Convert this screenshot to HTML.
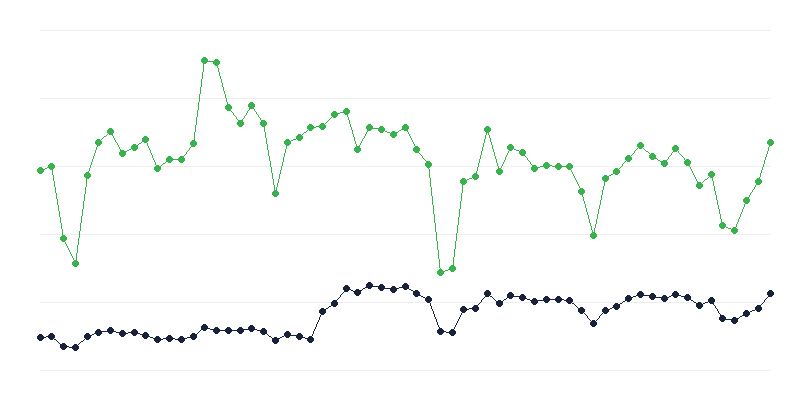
<!DOCTYPE html>
<html><head><meta charset="utf-8"><title>Chart</title>
<style>html,body{margin:0;padding:0;background:#fff;font-family:"Liberation Sans",sans-serif;}svg{display:block}</style>
</head><body>
<svg width="800" height="400" viewBox="0 0 800 400" shape-rendering="crispEdges">
<rect width="800" height="400" fill="#ffffff"/>
<rect x="40" y="30" width="731" height="1" fill="#eeeeee"/><rect x="40" y="98" width="731" height="1" fill="#eeeeee"/><rect x="40" y="166" width="731" height="1" fill="#eeeeee"/><rect x="40" y="234" width="731" height="1" fill="#eeeeee"/><rect x="40" y="302" width="731" height="1" fill="#eeeeee"/><rect x="40" y="370" width="731" height="1" fill="#eeeeee"/>
<path fill="#37b24d" d="M40 170h2v1h-2zM42 169h3v1h-3zM45 168h2v1h-2zM47 167h3v1h-3zM50 166h2v1h-2zM51 166h1v3h-1zM52 169h1v6h-1zM53 175h1v6h-1zM54 181h1v6h-1zM55 187h1v6h-1zM56 193h1v6h-1zM57 199h1v6h-1zM58 205h1v6h-1zM59 211h1v6h-1zM60 217h1v6h-1zM61 223h1v6h-1zM62 229h1v6h-1zM63 235h1v4h-1zM63 238h1v2h-1zM64 240h1v2h-1zM65 242h1v2h-1zM66 244h1v2h-1zM67 246h1v2h-1zM68 248h1v2h-1zM69 250h1v2h-1zM70 252h1v2h-1zM71 254h1v2h-1zM72 256h1v2h-1zM73 258h1v2h-1zM74 260h1v2h-1zM75 262h1v2h-1zM75 260h1v4h-1zM76 253h1v7h-1zM77 245h1v8h-1zM78 238h1v7h-1zM79 231h1v7h-1zM80 223h1v8h-1zM81 216h1v7h-1zM82 209h1v7h-1zM83 201h1v8h-1zM84 194h1v7h-1zM85 187h1v7h-1zM86 179h1v8h-1zM87 175h1v4h-1zM87 174h1v2h-1zM88 171h1v3h-1zM89 168h1v3h-1zM90 165h1v3h-1zM91 162h1v3h-1zM92 159h1v3h-1zM93 156h1v3h-1zM94 153h1v3h-1zM95 150h1v3h-1zM96 147h1v3h-1zM97 144h1v3h-1zM98 142h1v2h-1zM98 142h1v1h-1zM99 141h1v1h-1zM100 140h1v1h-1zM101 139h1v1h-1zM102 138h1v1h-1zM103 137h1v1h-1zM104 136h2v1h-2zM106 135h1v1h-1zM107 134h1v1h-1zM108 133h1v1h-1zM109 132h1v1h-1zM110 131h1v1h-1zM110 131h1v1h-1zM111 132h1v2h-1zM112 134h1v2h-1zM113 136h1v2h-1zM114 138h1v2h-1zM115 140h1v2h-1zM116 142h1v1h-1zM117 143h1v2h-1zM118 145h1v2h-1zM119 147h1v2h-1zM120 149h1v2h-1zM121 151h1v2h-1zM122 153h1v1h-1zM122 153h1v1h-1zM123 152h2v1h-2zM125 151h2v1h-2zM127 150h2v1h-2zM129 149h2v1h-2zM131 148h2v1h-2zM133 147h2v1h-2zM134 147h1v1h-1zM135 146h2v1h-2zM137 145h1v1h-1zM138 144h1v1h-1zM139 143h2v1h-2zM141 142h1v1h-1zM142 141h1v1h-1zM143 140h2v1h-2zM145 139h1v1h-1zM145 139h1v2h-1zM146 141h1v2h-1zM147 143h1v3h-1zM148 146h1v2h-1zM149 148h1v2h-1zM150 150h1v3h-1zM151 153h1v2h-1zM152 155h1v3h-1zM153 158h1v2h-1zM154 160h1v2h-1zM155 162h1v3h-1zM156 165h1v2h-1zM157 167h1v2h-1zM157 168h1v1h-1zM158 167h1v1h-1zM159 166h2v1h-2zM161 165h1v1h-1zM162 164h1v1h-1zM163 163h2v1h-2zM165 162h1v1h-1zM166 161h1v1h-1zM167 160h2v1h-2zM169 159h1v1h-1zM169 159h13v1h-13zM181 159h1v1h-1zM182 158h1v1h-1zM183 156h1v2h-1zM184 155h1v1h-1zM185 154h1v1h-1zM186 152h1v2h-1zM187 151h1v1h-1zM188 150h1v1h-1zM189 148h1v2h-1zM190 147h1v1h-1zM191 146h1v1h-1zM192 144h1v2h-1zM193 143h1v1h-1zM193 140h1v4h-1zM194 132h1v8h-1zM195 125h1v7h-1zM196 117h1v8h-1zM197 110h1v7h-1zM198 102h1v8h-1zM199 94h1v8h-1zM200 87h1v7h-1zM201 79h1v8h-1zM202 72h1v7h-1zM203 64h1v8h-1zM204 60h1v4h-1zM204 60h3v1h-3zM207 61h6v1h-6zM213 62h4v1h-4zM216 62h1v2h-1zM217 64h1v4h-1zM218 68h1v4h-1zM219 72h1v4h-1zM220 76h1v3h-1zM221 79h1v4h-1zM222 83h1v4h-1zM223 87h1v4h-1zM224 91h1v3h-1zM225 94h1v4h-1zM226 98h1v4h-1zM227 102h1v4h-1zM228 106h1v2h-1zM228 107h1v1h-1zM229 108h1v1h-1zM230 109h1v2h-1zM231 111h1v1h-1zM232 112h1v1h-1zM233 113h1v2h-1zM234 115h1v1h-1zM235 116h1v1h-1zM236 117h1v2h-1zM237 119h1v1h-1zM238 120h1v1h-1zM239 121h1v2h-1zM240 123h1v1h-1zM240 123h1v1h-1zM241 121h1v2h-1zM242 119h1v2h-1zM243 118h1v1h-1zM244 116h1v2h-1zM245 115h1v1h-1zM246 113h1v2h-1zM247 111h1v2h-1zM248 110h1v1h-1zM249 108h1v2h-1zM250 106h1v2h-1zM251 105h1v1h-1zM251 105h1v1h-1zM252 106h1v2h-1zM253 108h1v1h-1zM254 109h1v2h-1zM255 111h1v1h-1zM256 112h1v2h-1zM257 114h1v1h-1zM258 115h1v2h-1zM259 117h1v1h-1zM260 118h1v2h-1zM261 120h1v1h-1zM262 121h1v2h-1zM263 123h1v1h-1zM263 123h1v3h-1zM264 126h1v6h-1zM265 132h1v6h-1zM266 138h1v6h-1zM267 144h1v6h-1zM268 150h1v6h-1zM269 156h1v5h-1zM270 161h1v6h-1zM271 167h1v6h-1zM272 173h1v6h-1zM273 179h1v6h-1zM274 185h1v6h-1zM275 191h1v3h-1zM275 191h1v3h-1zM276 187h1v4h-1zM277 183h1v4h-1zM278 179h1v4h-1zM279 174h1v5h-1zM280 170h1v4h-1zM281 166h1v4h-1zM282 162h1v4h-1zM283 157h1v5h-1zM284 153h1v4h-1zM285 149h1v4h-1zM286 145h1v4h-1zM287 142h1v3h-1zM287 142h2v1h-2zM289 141h2v1h-2zM291 140h2v1h-2zM293 139h3v1h-3zM296 138h2v1h-2zM298 137h2v1h-2zM299 137h1v1h-1zM300 136h1v1h-1zM301 135h1v1h-1zM302 134h1v1h-1zM303 133h1v1h-1zM304 132h2v1h-2zM306 131h1v1h-1zM307 130h1v1h-1zM308 129h1v1h-1zM309 128h1v1h-1zM310 127h1v1h-1zM310 127h6v1h-6zM316 126h7v1h-7zM322 126h1v1h-1zM323 125h1v1h-1zM324 124h1v1h-1zM325 123h1v1h-1zM326 122h1v1h-1zM327 121h1v1h-1zM328 120h1v1h-1zM329 119h1v1h-1zM330 118h1v1h-1zM331 117h1v1h-1zM332 116h1v1h-1zM333 115h1v1h-1zM334 114h1v1h-1zM334 114h2v1h-2zM336 113h4v1h-4zM340 112h4v1h-4zM344 111h3v1h-3zM346 111h1v2h-1zM347 113h1v4h-1zM348 117h1v3h-1zM349 120h1v4h-1zM350 124h1v3h-1zM351 127h1v3h-1zM352 130h1v4h-1zM353 134h1v3h-1zM354 137h1v4h-1zM355 141h1v3h-1zM356 144h1v4h-1zM357 148h1v2h-1zM357 149h1v1h-1zM358 147h1v2h-1zM359 145h1v2h-1zM360 143h1v2h-1zM361 141h1v2h-1zM362 139h1v2h-1zM363 138h1v1h-1zM364 136h1v2h-1zM365 134h1v2h-1zM366 132h1v2h-1zM367 130h1v2h-1zM368 128h1v2h-1zM369 127h1v1h-1zM369 127h3v1h-3zM372 128h6v1h-6zM378 129h4v1h-4zM381 129h2v1h-2zM383 130h2v1h-2zM385 131h2v1h-2zM387 132h3v1h-3zM390 133h2v1h-2zM392 134h2v1h-2zM393 134h1v1h-1zM394 133h2v1h-2zM396 132h2v1h-2zM398 131h1v1h-1zM399 130h2v1h-2zM401 129h2v1h-2zM403 128h2v1h-2zM405 127h1v1h-1zM405 127h1v1h-1zM406 128h1v2h-1zM407 130h1v2h-1zM408 132h1v2h-1zM409 134h1v2h-1zM410 136h1v2h-1zM411 138h1v2h-1zM412 140h1v2h-1zM413 142h1v2h-1zM414 144h1v2h-1zM415 146h1v2h-1zM416 148h1v2h-1zM416 149h1v1h-1zM417 150h1v1h-1zM418 151h1v2h-1zM419 153h1v1h-1zM420 154h1v1h-1zM421 155h1v1h-1zM422 156h1v2h-1zM423 158h1v1h-1zM424 159h1v1h-1zM425 160h1v1h-1zM426 161h1v2h-1zM427 163h1v1h-1zM428 164h1v1h-1zM428 164h1v5h-1zM429 169h1v9h-1zM430 178h1v9h-1zM431 187h1v9h-1zM432 196h1v9h-1zM433 205h1v9h-1zM434 214h1v9h-1zM435 223h1v9h-1zM436 232h1v9h-1zM437 241h1v9h-1zM438 250h1v9h-1zM439 259h1v9h-1zM440 268h1v5h-1zM440 272h2v1h-2zM442 271h3v1h-3zM445 270h3v1h-3zM448 269h3v1h-3zM451 268h2v1h-2zM452 265h1v4h-1zM453 257h1v8h-1zM454 249h1v8h-1zM455 241h1v8h-1zM456 233h1v8h-1zM457 225h1v8h-1zM458 217h1v8h-1zM459 209h1v8h-1zM460 201h1v8h-1zM461 193h1v8h-1zM462 185h1v8h-1zM463 181h1v4h-1zM463 181h2v1h-2zM465 180h2v1h-2zM467 179h2v1h-2zM469 178h3v1h-3zM472 177h2v1h-2zM474 176h2v1h-2zM475 175h1v2h-1zM476 171h1v4h-1zM477 167h1v4h-1zM478 163h1v4h-1zM479 159h1v4h-1zM480 155h1v4h-1zM481 151h1v4h-1zM482 147h1v4h-1zM483 143h1v4h-1zM484 139h1v4h-1zM485 135h1v4h-1zM486 131h1v4h-1zM487 129h1v2h-1zM487 129h1v2h-1zM488 131h1v4h-1zM489 135h1v3h-1zM490 138h1v4h-1zM491 142h1v3h-1zM492 145h1v4h-1zM493 149h1v3h-1zM494 152h1v4h-1zM495 156h1v3h-1zM496 159h1v4h-1zM497 163h1v3h-1zM498 166h1v4h-1zM499 170h1v2h-1zM499 170h1v2h-1zM500 168h1v2h-1zM501 166h1v2h-1zM502 164h1v2h-1zM503 162h1v2h-1zM504 160h1v2h-1zM505 157h1v3h-1zM506 155h1v2h-1zM507 153h1v2h-1zM508 151h1v2h-1zM509 149h1v2h-1zM510 147h1v2h-1zM510 147h2v1h-2zM512 148h2v1h-2zM514 149h2v1h-2zM516 150h3v1h-3zM519 151h2v1h-2zM521 152h2v1h-2zM522 152h1v1h-1zM523 153h1v1h-1zM524 154h1v2h-1zM525 156h1v1h-1zM526 157h1v1h-1zM527 158h1v2h-1zM528 160h1v1h-1zM529 161h1v1h-1zM530 162h1v2h-1zM531 164h1v1h-1zM532 165h1v1h-1zM533 166h1v2h-1zM534 168h1v1h-1zM534 168h2v1h-2zM536 167h4v1h-4zM540 166h4v1h-4zM544 165h3v1h-3zM546 165h6v1h-6zM552 166h7v1h-7zM558 166h12v1h-12zM569 166h1v2h-1zM570 168h1v2h-1zM571 170h1v2h-1zM572 172h1v2h-1zM573 174h1v2h-1zM574 176h1v2h-1zM575 178h1v2h-1zM576 180h1v2h-1zM577 182h1v2h-1zM578 184h1v2h-1zM579 186h1v2h-1zM580 188h1v2h-1zM581 190h1v2h-1zM581 191h1v2h-1zM582 193h1v4h-1zM583 197h1v4h-1zM584 201h1v3h-1zM585 204h1v4h-1zM586 208h1v4h-1zM587 212h1v3h-1zM588 215h1v4h-1zM589 219h1v4h-1zM590 223h1v3h-1zM591 226h1v4h-1zM592 230h1v4h-1zM593 234h1v2h-1zM593 233h1v3h-1zM594 228h1v5h-1zM595 224h1v4h-1zM596 219h1v5h-1zM597 214h1v5h-1zM598 209h1v5h-1zM599 205h1v4h-1zM600 200h1v5h-1zM601 195h1v5h-1zM602 190h1v5h-1zM603 186h1v4h-1zM604 181h1v5h-1zM605 178h1v3h-1zM605 178h1v1h-1zM606 177h2v1h-2zM608 176h1v1h-1zM609 175h2v1h-2zM611 174h2v1h-2zM613 173h1v1h-1zM614 172h2v1h-2zM616 171h1v1h-1zM616 171h1v1h-1zM617 170h1v1h-1zM618 169h1v1h-1zM619 168h1v1h-1zM620 167h1v1h-1zM621 166h1v1h-1zM622 164h1v2h-1zM623 163h1v1h-1zM624 162h1v1h-1zM625 161h1v1h-1zM626 160h1v1h-1zM627 159h1v1h-1zM628 158h1v1h-1zM628 158h1v1h-1zM629 157h1v1h-1zM630 156h1v1h-1zM631 155h1v1h-1zM632 154h1v1h-1zM633 153h1v1h-1zM634 151h1v2h-1zM635 150h1v1h-1zM636 149h1v1h-1zM637 148h1v1h-1zM638 147h1v1h-1zM639 146h1v1h-1zM640 145h1v1h-1zM640 145h1v1h-1zM641 146h1v1h-1zM642 147h1v1h-1zM643 148h1v1h-1zM644 149h1v1h-1zM645 150h1v1h-1zM646 151h2v1h-2zM648 152h1v1h-1zM649 153h1v1h-1zM650 154h1v1h-1zM651 155h1v1h-1zM652 156h1v1h-1zM652 156h1v1h-1zM653 157h2v1h-2zM655 158h2v1h-2zM657 159h1v1h-1zM658 160h2v1h-2zM660 161h2v1h-2zM662 162h2v1h-2zM664 163h1v1h-1zM664 163h1v1h-1zM665 161h1v2h-1zM666 160h1v1h-1zM667 159h1v1h-1zM668 157h1v2h-1zM669 156h1v1h-1zM670 155h1v1h-1zM671 153h1v2h-1zM672 152h1v1h-1zM673 151h1v1h-1zM674 149h1v2h-1zM675 148h1v1h-1zM675 148h1v1h-1zM676 149h1v1h-1zM677 150h1v1h-1zM678 151h1v2h-1zM679 153h1v1h-1zM680 154h1v1h-1zM681 155h1v1h-1zM682 156h1v1h-1zM683 157h1v1h-1zM684 158h1v2h-1zM685 160h1v1h-1zM686 161h1v1h-1zM687 162h1v1h-1zM687 162h1v1h-1zM688 163h1v2h-1zM689 165h1v2h-1zM690 167h1v2h-1zM691 169h1v2h-1zM692 171h1v2h-1zM693 173h1v2h-1zM694 175h1v2h-1zM695 177h1v2h-1zM696 179h1v2h-1zM697 181h1v2h-1zM698 183h1v2h-1zM699 185h1v1h-1zM699 185h1v1h-1zM700 184h1v1h-1zM701 183h1v1h-1zM702 182h1v1h-1zM703 181h1v1h-1zM704 180h1v1h-1zM705 179h2v1h-2zM707 178h1v1h-1zM708 177h1v1h-1zM709 176h1v1h-1zM710 175h1v1h-1zM711 174h1v1h-1zM711 174h1v3h-1zM712 177h1v4h-1zM713 181h1v5h-1zM714 186h1v5h-1zM715 191h1v4h-1zM716 195h1v5h-1zM717 200h1v5h-1zM718 205h1v4h-1zM719 209h1v5h-1zM720 214h1v5h-1zM721 219h1v4h-1zM722 223h1v3h-1zM722 225h2v1h-2zM724 226h2v1h-2zM726 227h2v1h-2zM728 228h3v1h-3zM731 229h2v1h-2zM733 230h2v1h-2zM734 229h1v2h-1zM735 227h1v2h-1zM736 224h1v3h-1zM737 222h1v2h-1zM738 219h1v3h-1zM739 217h1v2h-1zM740 214h1v3h-1zM741 212h1v2h-1zM742 209h1v3h-1zM743 207h1v2h-1zM744 204h1v3h-1zM745 202h1v2h-1zM746 200h1v2h-1zM746 200h1v1h-1zM747 198h1v2h-1zM748 197h1v1h-1zM749 195h1v2h-1zM750 193h1v2h-1zM751 192h1v1h-1zM752 190h1v2h-1zM753 189h1v1h-1zM754 187h1v2h-1zM755 185h1v2h-1zM756 184h1v1h-1zM757 182h1v2h-1zM758 181h1v1h-1zM758 180h1v2h-1zM759 177h1v3h-1zM760 173h1v4h-1zM761 170h1v3h-1zM762 167h1v3h-1zM763 164h1v3h-1zM764 160h1v4h-1zM765 157h1v3h-1zM766 154h1v3h-1zM767 151h1v3h-1zM768 147h1v4h-1zM769 144h1v3h-1zM770 142h1v2h-1z"/>
<path fill="#37b24d" d="M39 167h3v1h1v1h1v3h-1v1h-1v1h-3v-1h-1v-1h-1v-3h1v-1h1zM50 163h3v1h1v1h1v3h-1v1h-1v1h-3v-1h-1v-1h-1v-3h1v-1h1zM62 235h3v1h1v1h1v3h-1v1h-1v1h-3v-1h-1v-1h-1v-3h1v-1h1zM74 260h3v1h1v1h1v3h-1v1h-1v1h-3v-1h-1v-1h-1v-3h1v-1h1zM86 172h3v1h1v1h1v3h-1v1h-1v1h-3v-1h-1v-1h-1v-3h1v-1h1zM97 139h3v1h1v1h1v3h-1v1h-1v1h-3v-1h-1v-1h-1v-3h1v-1h1zM109 128h3v1h1v1h1v3h-1v1h-1v1h-3v-1h-1v-1h-1v-3h1v-1h1zM121 150h3v1h1v1h1v3h-1v1h-1v1h-3v-1h-1v-1h-1v-3h1v-1h1zM133 144h3v1h1v1h1v3h-1v1h-1v1h-3v-1h-1v-1h-1v-3h1v-1h1zM144 136h3v1h1v1h1v3h-1v1h-1v1h-3v-1h-1v-1h-1v-3h1v-1h1zM156 165h3v1h1v1h1v3h-1v1h-1v1h-3v-1h-1v-1h-1v-3h1v-1h1zM168 156h3v1h1v1h1v3h-1v1h-1v1h-3v-1h-1v-1h-1v-3h1v-1h1zM180 156h3v1h1v1h1v3h-1v1h-1v1h-3v-1h-1v-1h-1v-3h1v-1h1zM192 140h3v1h1v1h1v3h-1v1h-1v1h-3v-1h-1v-1h-1v-3h1v-1h1zM203 57h3v1h1v1h1v3h-1v1h-1v1h-3v-1h-1v-1h-1v-3h1v-1h1zM215 59h3v1h1v1h1v3h-1v1h-1v1h-3v-1h-1v-1h-1v-3h1v-1h1zM227 104h3v1h1v1h1v3h-1v1h-1v1h-3v-1h-1v-1h-1v-3h1v-1h1zM239 120h3v1h1v1h1v3h-1v1h-1v1h-3v-1h-1v-1h-1v-3h1v-1h1zM250 102h3v1h1v1h1v3h-1v1h-1v1h-3v-1h-1v-1h-1v-3h1v-1h1zM262 120h3v1h1v1h1v3h-1v1h-1v1h-3v-1h-1v-1h-1v-3h1v-1h1zM274 190h3v1h1v1h1v3h-1v1h-1v1h-3v-1h-1v-1h-1v-3h1v-1h1zM286 139h3v1h1v1h1v3h-1v1h-1v1h-3v-1h-1v-1h-1v-3h1v-1h1zM298 134h3v1h1v1h1v3h-1v1h-1v1h-3v-1h-1v-1h-1v-3h1v-1h1zM309 124h3v1h1v1h1v3h-1v1h-1v1h-3v-1h-1v-1h-1v-3h1v-1h1zM321 123h3v1h1v1h1v3h-1v1h-1v1h-3v-1h-1v-1h-1v-3h1v-1h1zM333 111h3v1h1v1h1v3h-1v1h-1v1h-3v-1h-1v-1h-1v-3h1v-1h1zM345 108h3v1h1v1h1v3h-1v1h-1v1h-3v-1h-1v-1h-1v-3h1v-1h1zM356 146h3v1h1v1h1v3h-1v1h-1v1h-3v-1h-1v-1h-1v-3h1v-1h1zM368 124h3v1h1v1h1v3h-1v1h-1v1h-3v-1h-1v-1h-1v-3h1v-1h1zM380 126h3v1h1v1h1v3h-1v1h-1v1h-3v-1h-1v-1h-1v-3h1v-1h1zM392 131h3v1h1v1h1v3h-1v1h-1v1h-3v-1h-1v-1h-1v-3h1v-1h1zM404 124h3v1h1v1h1v3h-1v1h-1v1h-3v-1h-1v-1h-1v-3h1v-1h1zM415 146h3v1h1v1h1v3h-1v1h-1v1h-3v-1h-1v-1h-1v-3h1v-1h1zM427 161h3v1h1v1h1v3h-1v1h-1v1h-3v-1h-1v-1h-1v-3h1v-1h1zM439 269h3v1h1v1h1v3h-1v1h-1v1h-3v-1h-1v-1h-1v-3h1v-1h1zM451 265h3v1h1v1h1v3h-1v1h-1v1h-3v-1h-1v-1h-1v-3h1v-1h1zM462 178h3v1h1v1h1v3h-1v1h-1v1h-3v-1h-1v-1h-1v-3h1v-1h1zM474 173h3v1h1v1h1v3h-1v1h-1v1h-3v-1h-1v-1h-1v-3h1v-1h1zM486 126h3v1h1v1h1v3h-1v1h-1v1h-3v-1h-1v-1h-1v-3h1v-1h1zM498 168h3v1h1v1h1v3h-1v1h-1v1h-3v-1h-1v-1h-1v-3h1v-1h1zM509 144h3v1h1v1h1v3h-1v1h-1v1h-3v-1h-1v-1h-1v-3h1v-1h1zM521 149h3v1h1v1h1v3h-1v1h-1v1h-3v-1h-1v-1h-1v-3h1v-1h1zM533 165h3v1h1v1h1v3h-1v1h-1v1h-3v-1h-1v-1h-1v-3h1v-1h1zM545 162h3v1h1v1h1v3h-1v1h-1v1h-3v-1h-1v-1h-1v-3h1v-1h1zM557 163h3v1h1v1h1v3h-1v1h-1v1h-3v-1h-1v-1h-1v-3h1v-1h1zM568 163h3v1h1v1h1v3h-1v1h-1v1h-3v-1h-1v-1h-1v-3h1v-1h1zM580 188h3v1h1v1h1v3h-1v1h-1v1h-3v-1h-1v-1h-1v-3h1v-1h1zM592 232h3v1h1v1h1v3h-1v1h-1v1h-3v-1h-1v-1h-1v-3h1v-1h1zM604 175h3v1h1v1h1v3h-1v1h-1v1h-3v-1h-1v-1h-1v-3h1v-1h1zM615 168h3v1h1v1h1v3h-1v1h-1v1h-3v-1h-1v-1h-1v-3h1v-1h1zM627 155h3v1h1v1h1v3h-1v1h-1v1h-3v-1h-1v-1h-1v-3h1v-1h1zM639 142h3v1h1v1h1v3h-1v1h-1v1h-3v-1h-1v-1h-1v-3h1v-1h1zM651 153h3v1h1v1h1v3h-1v1h-1v1h-3v-1h-1v-1h-1v-3h1v-1h1zM663 160h3v1h1v1h1v3h-1v1h-1v1h-3v-1h-1v-1h-1v-3h1v-1h1zM674 145h3v1h1v1h1v3h-1v1h-1v1h-3v-1h-1v-1h-1v-3h1v-1h1zM686 159h3v1h1v1h1v3h-1v1h-1v1h-3v-1h-1v-1h-1v-3h1v-1h1zM698 182h3v1h1v1h1v3h-1v1h-1v1h-3v-1h-1v-1h-1v-3h1v-1h1zM710 171h3v1h1v1h1v3h-1v1h-1v1h-3v-1h-1v-1h-1v-3h1v-1h1zM721 222h3v1h1v1h1v3h-1v1h-1v1h-3v-1h-1v-1h-1v-3h1v-1h1zM733 227h3v1h1v1h1v3h-1v1h-1v1h-3v-1h-1v-1h-1v-3h1v-1h1zM745 197h3v1h1v1h1v3h-1v1h-1v1h-3v-1h-1v-1h-1v-3h1v-1h1zM757 178h3v1h1v1h1v3h-1v1h-1v1h-3v-1h-1v-1h-1v-3h1v-1h1zM769 139h3v1h1v1h1v3h-1v1h-1v1h-3v-1h-1v-1h-1v-3h1v-1h1z"/>
<path fill="#18223a" d="M40 337h6v1h-6zM46 336h6v1h-6zM51 336h1v1h-1zM52 337h1v1h-1zM53 338h1v1h-1zM54 339h2v1h-2zM56 340h1v1h-1zM57 341h1v1h-1zM58 342h1v1h-1zM59 343h1v1h-1zM60 344h2v1h-2zM62 345h1v1h-1zM63 346h1v1h-1zM63 346h6v1h-6zM69 347h7v1h-7zM75 347h1v1h-1zM76 346h1v1h-1zM77 345h1v1h-1zM78 344h1v1h-1zM79 343h1v1h-1zM80 342h1v1h-1zM81 341h2v1h-2zM83 340h1v1h-1zM84 339h1v1h-1zM85 338h1v1h-1zM86 337h1v1h-1zM87 336h1v1h-1zM87 336h2v1h-2zM89 335h3v1h-3zM92 334h2v1h-2zM94 333h3v1h-3zM97 332h2v1h-2zM98 332h3v1h-3zM101 331h6v1h-6zM107 330h4v1h-4zM110 330h2v1h-2zM112 331h4v1h-4zM116 332h4v1h-4zM120 333h3v1h-3zM122 333h6v1h-6zM128 332h7v1h-7zM134 332h2v1h-2zM136 333h4v1h-4zM140 334h4v1h-4zM144 335h2v1h-2zM145 335h2v1h-2zM147 336h3v1h-3zM150 337h3v1h-3zM153 338h3v1h-3zM156 339h2v1h-2zM157 339h6v1h-6zM163 338h7v1h-7zM169 338h6v1h-6zM175 339h7v1h-7zM181 339h2v1h-2zM183 338h4v1h-4zM187 337h4v1h-4zM191 336h3v1h-3zM193 336h1v1h-1zM194 335h1v1h-1zM195 334h2v1h-2zM197 333h1v1h-1zM198 332h1v1h-1zM199 331h1v1h-1zM200 330h1v1h-1zM201 329h2v1h-2zM203 328h1v1h-1zM204 327h1v1h-1zM204 327h2v1h-2zM206 328h4v1h-4zM210 329h4v1h-4zM214 330h3v1h-3zM216 330h13v1h-13zM228 330h13v1h-13zM240 330h3v1h-3zM243 329h6v1h-6zM249 328h3v1h-3zM251 328h2v1h-2zM253 329h4v1h-4zM257 330h4v1h-4zM261 331h3v1h-3zM263 331h1v1h-1zM264 332h1v1h-1zM265 333h2v1h-2zM267 334h1v1h-1zM268 335h1v1h-1zM269 336h2v1h-2zM271 337h1v1h-1zM272 338h1v1h-1zM273 339h2v1h-2zM275 340h1v1h-1zM275 340h1v1h-1zM276 339h2v1h-2zM278 338h2v1h-2zM280 337h2v1h-2zM282 336h2v1h-2zM284 335h2v1h-2zM286 334h2v1h-2zM287 334h3v1h-3zM290 335h6v1h-6zM296 336h4v1h-4zM299 336h2v1h-2zM301 337h4v1h-4zM305 338h4v1h-4zM309 339h2v1h-2zM310 338h1v2h-1zM311 336h1v2h-1zM312 334h1v2h-1zM313 331h1v3h-1zM314 329h1v2h-1zM315 327h1v2h-1zM316 324h1v3h-1zM317 322h1v2h-1zM318 320h1v2h-1zM319 317h1v3h-1zM320 315h1v2h-1zM321 313h1v2h-1zM322 311h1v2h-1zM322 311h1v1h-1zM323 310h2v1h-2zM325 309h1v1h-1zM326 308h2v1h-2zM328 307h1v1h-1zM329 306h2v1h-2zM331 305h1v1h-1zM332 304h2v1h-2zM334 303h1v1h-1zM334 303h1v1h-1zM335 302h1v1h-1zM336 300h1v2h-1zM337 299h1v1h-1zM338 298h1v1h-1zM339 297h1v1h-1zM340 295h1v2h-1zM341 294h1v1h-1zM342 293h1v1h-1zM343 292h1v1h-1zM344 290h1v2h-1zM345 289h1v1h-1zM346 288h1v1h-1zM346 288h2v1h-2zM348 289h3v1h-3zM351 290h2v1h-2zM353 291h3v1h-3zM356 292h2v1h-2zM357 292h1v1h-1zM358 291h2v1h-2zM360 290h2v1h-2zM362 289h1v1h-1zM363 288h2v1h-2zM365 287h2v1h-2zM367 286h2v1h-2zM369 285h1v1h-1zM369 285h3v1h-3zM372 286h6v1h-6zM378 287h4v1h-4zM381 287h3v1h-3zM384 288h6v1h-6zM390 289h4v1h-4zM393 289h2v1h-2zM395 288h4v1h-4zM399 287h4v1h-4zM403 286h3v1h-3zM405 286h1v1h-1zM406 287h2v1h-2zM408 288h1v1h-1zM409 289h2v1h-2zM411 290h2v1h-2zM413 291h1v1h-1zM414 292h2v1h-2zM416 293h1v1h-1zM416 293h1v1h-1zM417 294h2v1h-2zM419 295h2v1h-2zM421 296h2v1h-2zM423 297h2v1h-2zM425 298h2v1h-2zM427 299h2v1h-2zM428 299h1v2h-1zM429 301h1v2h-1zM430 303h1v3h-1zM431 306h1v3h-1zM432 309h1v2h-1zM433 311h1v3h-1zM434 314h1v3h-1zM435 317h1v2h-1zM436 319h1v3h-1zM437 322h1v3h-1zM438 325h1v2h-1zM439 327h1v3h-1zM440 330h1v2h-1zM440 331h6v1h-6zM446 332h7v1h-7zM452 331h1v2h-1zM453 329h1v2h-1zM454 327h1v2h-1zM455 325h1v2h-1zM456 323h1v2h-1zM457 321h1v2h-1zM458 319h1v2h-1zM459 317h1v2h-1zM460 315h1v2h-1zM461 313h1v2h-1zM462 311h1v2h-1zM463 309h1v2h-1zM463 309h6v1h-6zM469 308h7v1h-7zM475 308h1v1h-1zM476 307h1v1h-1zM477 305h1v2h-1zM478 304h1v1h-1zM479 303h1v1h-1zM480 302h1v1h-1zM481 300h1v2h-1zM482 299h1v1h-1zM483 298h1v1h-1zM484 297h1v1h-1zM485 295h1v2h-1zM486 294h1v1h-1zM487 293h1v1h-1zM487 293h1v1h-1zM488 294h1v1h-1zM489 295h1v1h-1zM490 296h2v1h-2zM492 297h1v1h-1zM493 298h1v1h-1zM494 299h1v1h-1zM495 300h1v1h-1zM496 301h2v1h-2zM498 302h1v1h-1zM499 303h1v1h-1zM499 303h1v1h-1zM500 302h2v1h-2zM502 301h1v1h-1zM503 300h1v1h-1zM504 299h2v1h-2zM506 298h1v1h-1zM507 297h1v1h-1zM508 296h2v1h-2zM510 295h1v1h-1zM510 295h3v1h-3zM513 296h6v1h-6zM519 297h4v1h-4zM522 297h2v1h-2zM524 298h3v1h-3zM527 299h3v1h-3zM530 300h3v1h-3zM533 301h2v1h-2zM534 301h3v1h-3zM537 300h6v1h-6zM543 299h4v1h-4zM546 299h13v1h-13zM558 299h6v1h-6zM564 300h6v1h-6zM569 300h1v1h-1zM570 301h1v1h-1zM571 302h1v1h-1zM572 303h2v1h-2zM574 304h1v1h-1zM575 305h1v1h-1zM576 306h1v1h-1zM577 307h1v1h-1zM578 308h2v1h-2zM580 309h1v1h-1zM581 310h1v1h-1zM581 310h1v1h-1zM582 311h1v1h-1zM583 312h1v1h-1zM584 313h1v1h-1zM585 314h1v1h-1zM586 315h1v1h-1zM587 316h1v2h-1zM588 318h1v1h-1zM589 319h1v1h-1zM590 320h1v1h-1zM591 321h1v1h-1zM592 322h1v1h-1zM593 323h1v1h-1zM593 323h1v1h-1zM594 322h1v1h-1zM595 321h1v1h-1zM596 320h1v1h-1zM597 319h1v1h-1zM598 318h1v1h-1zM599 316h1v2h-1zM600 315h1v1h-1zM601 314h1v1h-1zM602 313h1v1h-1zM603 312h1v1h-1zM604 311h1v1h-1zM605 310h1v1h-1zM605 310h2v1h-2zM607 309h3v1h-3zM610 308h2v1h-2zM612 307h3v1h-3zM615 306h2v1h-2zM616 306h1v1h-1zM617 305h2v1h-2zM619 304h1v1h-1zM620 303h2v1h-2zM622 302h1v1h-1zM623 301h2v1h-2zM625 300h1v1h-1zM626 299h2v1h-2zM628 298h1v1h-1zM628 298h2v1h-2zM630 297h3v1h-3zM633 296h3v1h-3zM636 295h3v1h-3zM639 294h2v1h-2zM640 294h3v1h-3zM643 295h6v1h-6zM649 296h4v1h-4zM652 296h3v1h-3zM655 297h6v1h-6zM661 298h4v1h-4zM664 298h2v1h-2zM666 297h3v1h-3zM669 296h2v1h-2zM671 295h3v1h-3zM674 294h2v1h-2zM675 294h2v1h-2zM677 295h4v1h-4zM681 296h4v1h-4zM685 297h3v1h-3zM687 297h1v1h-1zM688 298h2v1h-2zM690 299h1v1h-1zM691 300h2v1h-2zM693 301h1v1h-1zM694 302h2v1h-2zM696 303h1v1h-1zM697 304h2v1h-2zM699 305h1v1h-1zM699 305h2v1h-2zM701 304h2v1h-2zM703 303h2v1h-2zM705 302h3v1h-3zM708 301h2v1h-2zM710 300h2v1h-2zM711 300h1v1h-1zM712 301h1v2h-1zM713 303h1v2h-1zM714 305h1v1h-1zM715 306h1v2h-1zM716 308h1v1h-1zM717 309h1v2h-1zM718 311h1v2h-1zM719 313h1v1h-1zM720 314h1v2h-1zM721 316h1v2h-1zM722 318h1v1h-1zM722 318h3v1h-3zM725 319h6v1h-6zM731 320h4v1h-4zM734 320h1v1h-1zM735 319h2v1h-2zM737 318h2v1h-2zM739 317h1v1h-1zM740 316h2v1h-2zM742 315h2v1h-2zM744 314h2v1h-2zM746 313h1v1h-1zM746 313h2v1h-2zM748 312h2v1h-2zM750 311h2v1h-2zM752 310h3v1h-3zM755 309h2v1h-2zM757 308h2v1h-2zM758 308h1v1h-1zM759 307h1v1h-1zM760 305h1v2h-1zM761 304h1v1h-1zM762 303h1v1h-1zM763 302h1v1h-1zM764 300h1v2h-1zM765 299h1v1h-1zM766 298h1v1h-1zM767 297h1v1h-1zM768 295h1v2h-1zM769 294h1v1h-1zM770 293h1v1h-1z"/>
<path fill="#18223a" d="M39 334h3v1h1v1h1v3h-1v1h-1v1h-3v-1h-1v-1h-1v-3h1v-1h1zM50 333h3v1h1v1h1v3h-1v1h-1v1h-3v-1h-1v-1h-1v-3h1v-1h1zM62 343h3v1h1v1h1v3h-1v1h-1v1h-3v-1h-1v-1h-1v-3h1v-1h1zM74 344h3v1h1v1h1v3h-1v1h-1v1h-3v-1h-1v-1h-1v-3h1v-1h1zM86 333h3v1h1v1h1v3h-1v1h-1v1h-3v-1h-1v-1h-1v-3h1v-1h1zM97 329h3v1h1v1h1v3h-1v1h-1v1h-3v-1h-1v-1h-1v-3h1v-1h1zM109 327h3v1h1v1h1v3h-1v1h-1v1h-3v-1h-1v-1h-1v-3h1v-1h1zM121 330h3v1h1v1h1v3h-1v1h-1v1h-3v-1h-1v-1h-1v-3h1v-1h1zM133 329h3v1h1v1h1v3h-1v1h-1v1h-3v-1h-1v-1h-1v-3h1v-1h1zM144 332h3v1h1v1h1v3h-1v1h-1v1h-3v-1h-1v-1h-1v-3h1v-1h1zM156 336h3v1h1v1h1v3h-1v1h-1v1h-3v-1h-1v-1h-1v-3h1v-1h1zM168 335h3v1h1v1h1v3h-1v1h-1v1h-3v-1h-1v-1h-1v-3h1v-1h1zM180 336h3v1h1v1h1v3h-1v1h-1v1h-3v-1h-1v-1h-1v-3h1v-1h1zM192 333h3v1h1v1h1v3h-1v1h-1v1h-3v-1h-1v-1h-1v-3h1v-1h1zM203 324h3v1h1v1h1v3h-1v1h-1v1h-3v-1h-1v-1h-1v-3h1v-1h1zM215 327h3v1h1v1h1v3h-1v1h-1v1h-3v-1h-1v-1h-1v-3h1v-1h1zM227 327h3v1h1v1h1v3h-1v1h-1v1h-3v-1h-1v-1h-1v-3h1v-1h1zM239 327h3v1h1v1h1v3h-1v1h-1v1h-3v-1h-1v-1h-1v-3h1v-1h1zM250 325h3v1h1v1h1v3h-1v1h-1v1h-3v-1h-1v-1h-1v-3h1v-1h1zM262 328h3v1h1v1h1v3h-1v1h-1v1h-3v-1h-1v-1h-1v-3h1v-1h1zM274 337h3v1h1v1h1v3h-1v1h-1v1h-3v-1h-1v-1h-1v-3h1v-1h1zM286 331h3v1h1v1h1v3h-1v1h-1v1h-3v-1h-1v-1h-1v-3h1v-1h1zM298 333h3v1h1v1h1v3h-1v1h-1v1h-3v-1h-1v-1h-1v-3h1v-1h1zM309 336h3v1h1v1h1v3h-1v1h-1v1h-3v-1h-1v-1h-1v-3h1v-1h1zM321 308h3v1h1v1h1v3h-1v1h-1v1h-3v-1h-1v-1h-1v-3h1v-1h1zM333 300h3v1h1v1h1v3h-1v1h-1v1h-3v-1h-1v-1h-1v-3h1v-1h1zM345 285h3v1h1v1h1v3h-1v1h-1v1h-3v-1h-1v-1h-1v-3h1v-1h1zM356 289h3v1h1v1h1v3h-1v1h-1v1h-3v-1h-1v-1h-1v-3h1v-1h1zM368 282h3v1h1v1h1v3h-1v1h-1v1h-3v-1h-1v-1h-1v-3h1v-1h1zM380 284h3v1h1v1h1v3h-1v1h-1v1h-3v-1h-1v-1h-1v-3h1v-1h1zM392 286h3v1h1v1h1v3h-1v1h-1v1h-3v-1h-1v-1h-1v-3h1v-1h1zM404 283h3v1h1v1h1v3h-1v1h-1v1h-3v-1h-1v-1h-1v-3h1v-1h1zM415 290h3v1h1v1h1v3h-1v1h-1v1h-3v-1h-1v-1h-1v-3h1v-1h1zM427 296h3v1h1v1h1v3h-1v1h-1v1h-3v-1h-1v-1h-1v-3h1v-1h1zM439 328h3v1h1v1h1v3h-1v1h-1v1h-3v-1h-1v-1h-1v-3h1v-1h1zM451 329h3v1h1v1h1v3h-1v1h-1v1h-3v-1h-1v-1h-1v-3h1v-1h1zM462 306h3v1h1v1h1v3h-1v1h-1v1h-3v-1h-1v-1h-1v-3h1v-1h1zM474 305h3v1h1v1h1v3h-1v1h-1v1h-3v-1h-1v-1h-1v-3h1v-1h1zM486 290h3v1h1v1h1v3h-1v1h-1v1h-3v-1h-1v-1h-1v-3h1v-1h1zM498 300h3v1h1v1h1v3h-1v1h-1v1h-3v-1h-1v-1h-1v-3h1v-1h1zM509 292h3v1h1v1h1v3h-1v1h-1v1h-3v-1h-1v-1h-1v-3h1v-1h1zM521 294h3v1h1v1h1v3h-1v1h-1v1h-3v-1h-1v-1h-1v-3h1v-1h1zM533 298h3v1h1v1h1v3h-1v1h-1v1h-3v-1h-1v-1h-1v-3h1v-1h1zM545 296h3v1h1v1h1v3h-1v1h-1v1h-3v-1h-1v-1h-1v-3h1v-1h1zM557 296h3v1h1v1h1v3h-1v1h-1v1h-3v-1h-1v-1h-1v-3h1v-1h1zM568 297h3v1h1v1h1v3h-1v1h-1v1h-3v-1h-1v-1h-1v-3h1v-1h1zM580 307h3v1h1v1h1v3h-1v1h-1v1h-3v-1h-1v-1h-1v-3h1v-1h1zM592 320h3v1h1v1h1v3h-1v1h-1v1h-3v-1h-1v-1h-1v-3h1v-1h1zM604 307h3v1h1v1h1v3h-1v1h-1v1h-3v-1h-1v-1h-1v-3h1v-1h1zM615 303h3v1h1v1h1v3h-1v1h-1v1h-3v-1h-1v-1h-1v-3h1v-1h1zM627 295h3v1h1v1h1v3h-1v1h-1v1h-3v-1h-1v-1h-1v-3h1v-1h1zM639 291h3v1h1v1h1v3h-1v1h-1v1h-3v-1h-1v-1h-1v-3h1v-1h1zM651 293h3v1h1v1h1v3h-1v1h-1v1h-3v-1h-1v-1h-1v-3h1v-1h1zM663 295h3v1h1v1h1v3h-1v1h-1v1h-3v-1h-1v-1h-1v-3h1v-1h1zM674 291h3v1h1v1h1v3h-1v1h-1v1h-3v-1h-1v-1h-1v-3h1v-1h1zM686 294h3v1h1v1h1v3h-1v1h-1v1h-3v-1h-1v-1h-1v-3h1v-1h1zM698 302h3v1h1v1h1v3h-1v1h-1v1h-3v-1h-1v-1h-1v-3h1v-1h1zM710 297h3v1h1v1h1v3h-1v1h-1v1h-3v-1h-1v-1h-1v-3h1v-1h1zM721 315h3v1h1v1h1v3h-1v1h-1v1h-3v-1h-1v-1h-1v-3h1v-1h1zM733 317h3v1h1v1h1v3h-1v1h-1v1h-3v-1h-1v-1h-1v-3h1v-1h1zM745 310h3v1h1v1h1v3h-1v1h-1v1h-3v-1h-1v-1h-1v-3h1v-1h1zM757 305h3v1h1v1h1v3h-1v1h-1v1h-3v-1h-1v-1h-1v-3h1v-1h1zM769 290h3v1h1v1h1v3h-1v1h-1v1h-3v-1h-1v-1h-1v-3h1v-1h1z"/>
</svg>
</body></html>
